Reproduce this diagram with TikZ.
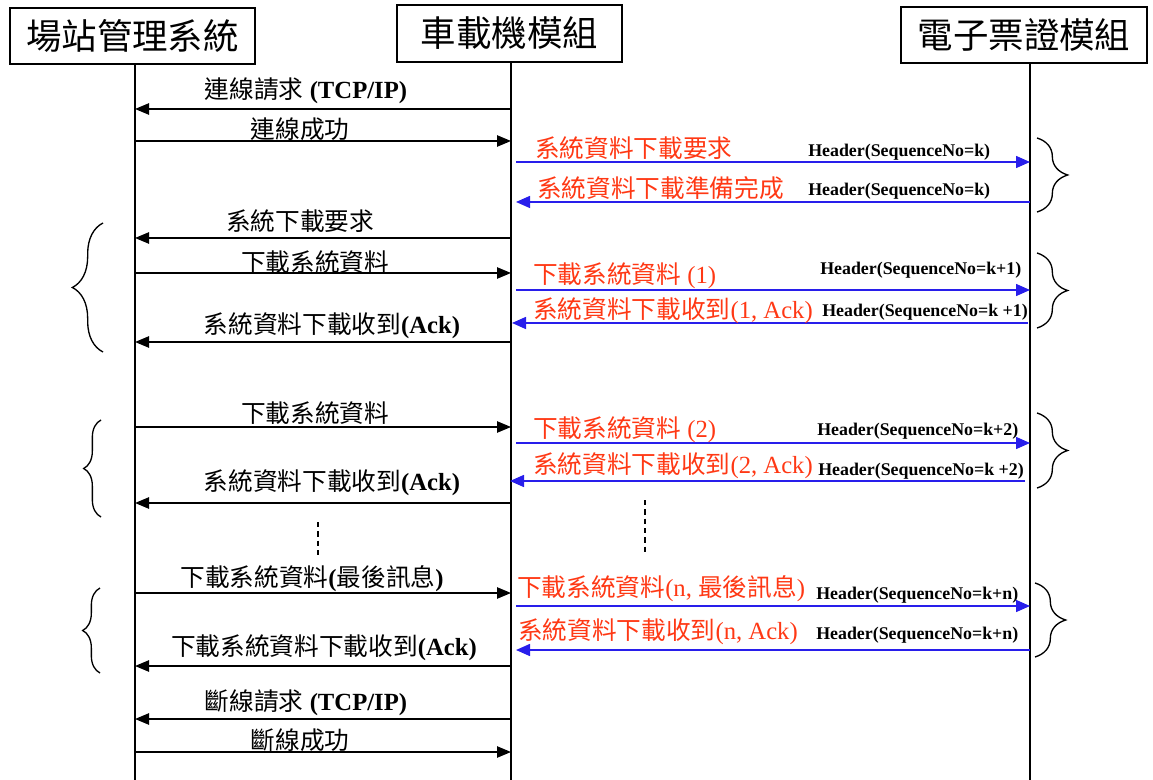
\documentclass[tikz,border=0pt]{standalone}
\usepackage{fontspec}
\setmainfont{Liberation Serif}
\newfontfamily\cjk{Noto Sans CJK TC}
\usetikzlibrary{arrows.meta,decorations.pathreplacing,calc}
\definecolor{msgred}{RGB}{255,56,20}
\definecolor{msgblue}{RGB}{40,30,235}
\newcommand\zh[1]{{\cjk #1}}
\begin{document}
\begin{tikzpicture}[x=0.75pt,y=-0.75pt,
 box/.style={draw,line width=0.9pt,inner sep=0pt,font=\cjk\fontsize{26.6}{30}\selectfont},
 life/.style={line width=1.1pt},
 msg/.style={line width=1.1pt,-{Triangle[length=10.5pt,width=8.5pt]}},
 bmsg/.style={line width=1.1pt,color=msgblue,-{Triangle[length=10.5pt,width=9pt]}},
 lbl/.style={inner sep=0pt,font=\fontsize{18.5}{20}\selectfont},
 rlbl/.style={lbl,text=msgred,anchor=west},
 hdr/.style={inner sep=0pt,anchor=west,font=\bfseries\fontsize{13.4}{15}\selectfont},
 bigbrace/.style={decorate,decoration={brace,amplitude=23pt},line width=1pt},
 smallbrace/.style={decorate,decoration={brace,amplitude=13pt},line width=1pt},
 gap/.style={dashed,dash pattern=on 4pt off 3pt,line width=0.9pt},
]
\useasboundingbox (0,0) rectangle (1153,780);
% participants
\node[box,minimum width=183.75pt,minimum height=42pt] (b1) at (132.5,36) {場站管理系統};
\node[box,minimum width=168.75pt,minimum height=42.75pt] (b2) at (509.5,33.5) {車載機模組};
\node[box,minimum width=184.5pt,minimum height=42pt] (b3) at (1024,35) {電子票證模組};
\coordinate (L1) at (135,64);
\coordinate (L2) at (511,62);
\coordinate (L3) at (1030,63);
\draw[life] (L1) -- (L1 |- 0,780);
\draw[life] (L2) -- (L2 |- 0,780);
\draw[life] (L3) -- (L3 |- 0,780);

% connection
\draw[msg] (L2 |- 0,109) -- (L1 |- 0,109);
\node[lbl] (t1) at (306,91) {\zh{連線請求} \textbf{(TCP/IP)}};
\draw[msg] (L1 |- 0,141) -- (L2 |- 0,141);
\node[lbl] (t2) at (300,129) {\zh{連線成功}};

% download request
\draw[bmsg] ($(L2 |- 0,162)+(5,0)$) -- (L3 |- 0,162);
\node[rlbl] (t3) at (535,148) {\zh{系統資料下載要求}};
\node[hdr] (h3) at (808,152) {Header(SequenceNo=k)};
\draw[bmsg] (L3 |- 0,202) -- ($(L2 |- 0,202)+(5,0)$);
\node[rlbl] (t4) at (537,188) {\zh{系統資料下載準備完成}};
\node[hdr] (h4) at (808,191) {Header(SequenceNo=k)};
\draw[bigbrace] (1037,138) -- (1037,212);

% block 1
\draw[msg] (L2 |- 0,238) -- (L1 |- 0,238);
\node[lbl] (t5) at (300,221) {\zh{系統下載要求}};
\draw[msg] (L1 |- 0,273) -- (L2 |- 0,273);
\node[lbl] (t6) at (315,262) {\zh{下載系統資料}};
\draw[bmsg] ($(L2 |- 0,290)+(5,0)$) -- (L3 |- 0,290);
\node[rlbl] (t7) at (533,276) {\zh{下載系統資料} (1)};
\node[hdr] (h7) at (820,270) {Header(SequenceNo=k+1)};
\draw[bmsg] ($(L3 |- 0,323)+(-2,0)$) -- ($(L2 |- 0,323)+(1,0)$);
\node[rlbl] (t8) at (533,311) {\zh{系統資料下載收到}(1, Ack)};
\node[hdr] (h8) at (822,312) {Header(SequenceNo=k +1)};
\draw[bigbrace] (1037,253) -- (1037,328);
\draw[msg] (L2 |- 0,342) -- (L1 |- 0,342);
\node[lbl] (t9) at (332,326) {\zh{系統資料下載收到}\textbf{(Ack)}};
\draw[bigbrace] (103,352) -- (103,223);

% block 2
\draw[msg] (L1 |- 0,427) -- (L2 |- 0,427);
\node[lbl] (t10) at (315,413) {\zh{下載系統資料}};
\draw[bmsg] ($(L2 |- 0,443)+(5,0)$) -- (L3 |- 0,443);
\node[rlbl] (t11) at (533,430) {\zh{下載系統資料} (2)};
\node[hdr] (h11) at (817,431) {Header(SequenceNo=k+2)};
\draw[bmsg] ($(L3 |- 0,481)+(-5,0)$) -- ($(L2 |- 0,481)+(-1,0)$);
\node[rlbl] (t12) at (533,466) {\zh{系統資料下載收到}(2, Ack)};
\node[hdr] (h12) at (818,471) {Header(SequenceNo=k +2)};
\draw[bigbrace] (1037,413) -- (1037,488);
\draw[msg] (L2 |- 0,503) -- (L1 |- 0,503);
\node[lbl] (t13) at (332,483) {\zh{系統資料下載收到}\textbf{(Ack)}};
\draw[smallbrace] (101,517) -- (101,420);

% ellipsis
\draw[gap] (318,522) -- (318,555);
\draw[gap] (645,500) -- (645,552);

% block n
\draw[msg] (L1 |- 0,593) -- (L2 |- 0,593);
\node[lbl] (t14) at (312,579) {\zh{下載系統資料}\textbf{(}\zh{最後訊息}\textbf{)}};
\draw[bmsg] ($(L2 |- 0,606)+(5,0)$) -- (L3 |- 0,606);
\node[rlbl] (t15) at (517,589) {\zh{下載系統資料}(n, \zh{最後訊息})};
\node[hdr] (h15) at (816,595) {Header(SequenceNo=k+n)};
\draw[bmsg] (L3 |- 0,650) -- ($(L2 |- 0,650)+(5,0)$);
\node[rlbl] (t16) at (518,632) {\zh{系統資料下載收到}(n, Ack)};
\node[hdr] (h16) at (816,635) {Header(SequenceNo=k+n)};
\draw[bigbrace] (1035,583) -- (1035,657);
\draw[msg] (L2 |- 0,666) -- (L1 |- 0,666);
\node[lbl] (t17) at (324,648) {\zh{下載系統資料下載收到}\textbf{(Ack)}};
\draw[smallbrace] (100,673) -- (100,588);

% disconnect
\draw[msg] (L2 |- 0,719) -- (L1 |- 0,719);
\node[lbl] (t18) at (306,703) {\zh{斷線請求} \textbf{(TCP/IP)}};
\draw[msg] (L1 |- 0,752) -- (L2 |- 0,752);
\node[lbl] (t19) at (300,740) {\zh{斷線成功}};
\end{tikzpicture}
\end{document}
